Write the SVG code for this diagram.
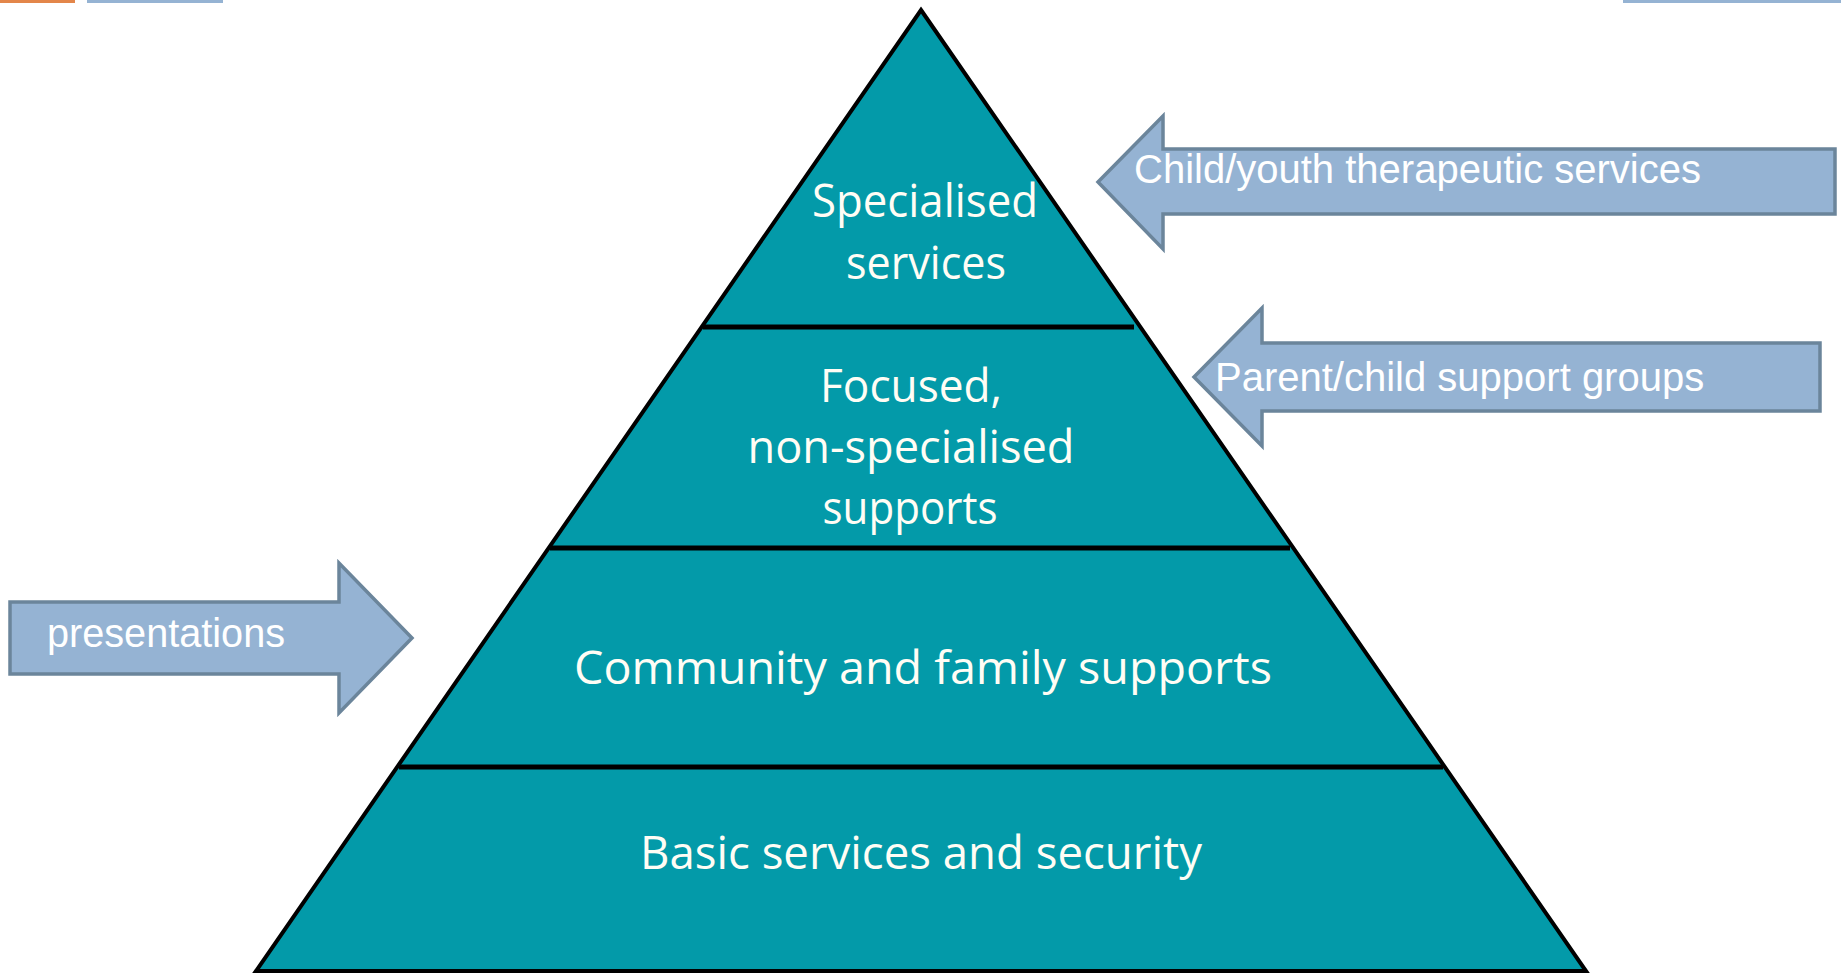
<svg xmlns="http://www.w3.org/2000/svg" width="1841" height="973" viewBox="0 0 1841 973">
<style>
.tier{font-family:"Open Sans","Noto Sans",sans-serif;font-size:46px;fill:#fffdf5;text-anchor:middle}
.arrow{fill:#95b3d3;stroke:#6b859b;stroke-width:3.5;stroke-linejoin:miter}
.atext{font-family:"Liberation Sans",Arial,sans-serif;font-size:40px;fill:#ffffff}
.div{stroke:#000;stroke-width:5}
</style>
<rect width="1841" height="973" fill="#ffffff"/>
<g id="topbars">
<rect x="0" y="0" width="75" height="3" fill="#e3864a"/>
<rect x="87" y="0" width="136" height="3" fill="#95b3d3"/>
<rect x="1623" y="0" width="218" height="3" fill="#95b3d3"/>
</g>
<g id="pyramid">
<polygon points="921,10 1586,971 256,971" fill="#039aa9" stroke="#000" stroke-width="4" stroke-linejoin="miter"/>
</g>
<g id="connectors">
<line class="div" x1="703" y1="327" x2="1134" y2="327"/>
<line class="div" x1="550" y1="548" x2="1290" y2="548"/>
<line class="div" x1="399" y1="767" x2="1443" y2="767"/>
</g>
<g id="tier-specialised">
<text class="tier" x="925" y="217" textLength="226" lengthAdjust="spacingAndGlyphs">Specialised</text>
<text class="tier" x="926" y="279" textLength="160" lengthAdjust="spacingAndGlyphs">services</text>
</g>
<g id="tier-focused">
<text class="tier" x="911" y="402" textLength="182" lengthAdjust="spacingAndGlyphs">Focused,</text>
<text class="tier" x="911" y="463" textLength="327" lengthAdjust="spacingAndGlyphs">non-specialised</text>
<text class="tier" x="910" y="524" textLength="175" lengthAdjust="spacingAndGlyphs">supports</text>
</g>
<g id="tier-community">
<text class="tier" x="923" y="684" textLength="698" lengthAdjust="spacingAndGlyphs">Community and family supports</text>
</g>
<g id="tier-basic">
<text class="tier" x="921" y="869" textLength="562" lengthAdjust="spacingAndGlyphs">Basic services and security</text>
</g>
<g id="arrow-child-youth">
<polygon class="arrow" points="1098,182 1163,116 1163,149 1835,149 1835,214 1163,214 1163,249"/>
<text class="atext" x="1134" y="183">Child/youth therapeutic services</text>
</g>
<g id="arrow-parent-child">
<polygon class="arrow" points="1194,377 1262,308 1262,343 1820,343 1820,411 1262,411 1262,446"/>
<text class="atext" x="1215" y="391">Parent/child support groups</text>
</g>
<g id="arrow-presentations">
<polygon class="arrow" points="10,602 339,602 339,563 412,638 339,713 339,674 10,674"/>
<text class="atext" x="47" y="647" textLength="238" lengthAdjust="spacingAndGlyphs">presentations</text>
</g>
</svg>
